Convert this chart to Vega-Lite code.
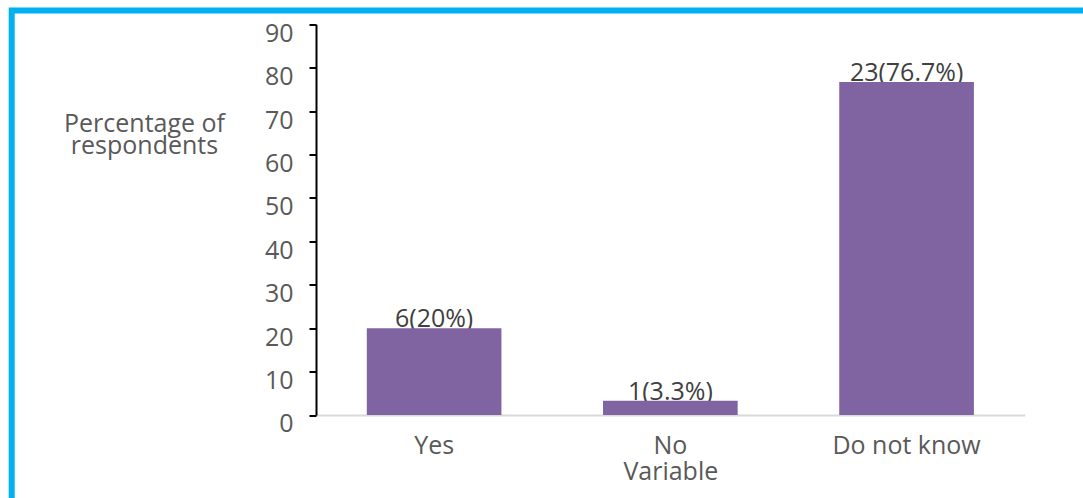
{
  "$schema": "https://vega.github.io/schema/vega-lite/v6.json",
  "width": 1081,
  "height": 498,
  "autosize": {"type": "none"},
  "padding": {"left": 11.7, "top": 10.5, "right": 0, "bottom": 0},
  "background": "white",
  "config": {
    "view": {"stroke": "#00B0F0", "strokeWidth": 6, "fill": "white"},
    "font": "Open Sans"
  },
  "data": {
    "values": [
      {"Variable": "Yes", "Percentage": 20, "Label": "6(20%)"},
      {"Variable": "No", "Percentage": 3.3, "Label": "1(3.3%)"},
      {"Variable": "Do not know", "Percentage": 76.7, "Label": "23(76.7%)"}
    ]
  },
  "encoding": {
    "x": {
      "field": "Variable",
      "type": "nominal",
      "sort": null,
      "scale": {"range": [304.3, 1013], "paddingInner": 0.43, "paddingOuter": 0.215},
      "axis": {
        "orient": "bottom",
        "offset": -93.5,
        "domainColor": "#d9d9d9",
        "domainWidth": 2,
        "ticks": false,
        "tickSize": 0,
        "labelAngle": 0,
        "labelFontSize": 25,
        "labelColor": "#595959",
        "labelBaseline": "alphabetic",
        "labelPadding": 39,
        "title": "Variable",
        "titleFontSize": 25,
        "titleFontWeight": "normal",
        "titleColor": "#595959",
        "titleBaseline": "alphabetic",
        "titleY": 65
      }
    },
    "y": {
      "field": "Percentage",
      "type": "quantitative",
      "scale": {"domain": [0, 90], "range": [404.5, 13.8], "nice": false, "zero": true},
      "axis": {
        "orient": "left",
        "offset": -304.3,
        "values": [0, 10, 20, 30, 40, 50, 60, 70, 80, 90],
        "grid": false,
        "domainColor": "black",
        "domainWidth": 2,
        "tickColor": "black",
        "tickWidth": 2,
        "tickSize": 7,
        "labelFontSize": 25,
        "labelColor": "#595959",
        "labelPadding": 16,
        "labelOffset": 9,
        "labelFlush": false,
        "labelOverlap": false,
        "title": ["Percentage of", "respondents"],
        "titleAngle": 0,
        "titleAlign": "center",
        "titleBaseline": "alphabetic",
        "titleX": -172,
        "titleY": 121.2,
        "titleFontSize": 25,
        "titleFontWeight": "normal",
        "titleColor": "#595959",
        "titleLineHeight": 21.5
      }
    }
  },
  "layer": [
    {
      "mark": {"type": "text", "baseline": "alphabetic", "align": "center", "fontSize": 25, "color": "#404040", "dy": -1},
      "encoding": {"text": {"field": "Label"}}
    },
    {
      "mark": {"type": "bar", "color": "#8064A2"}
    }
  ]
}
